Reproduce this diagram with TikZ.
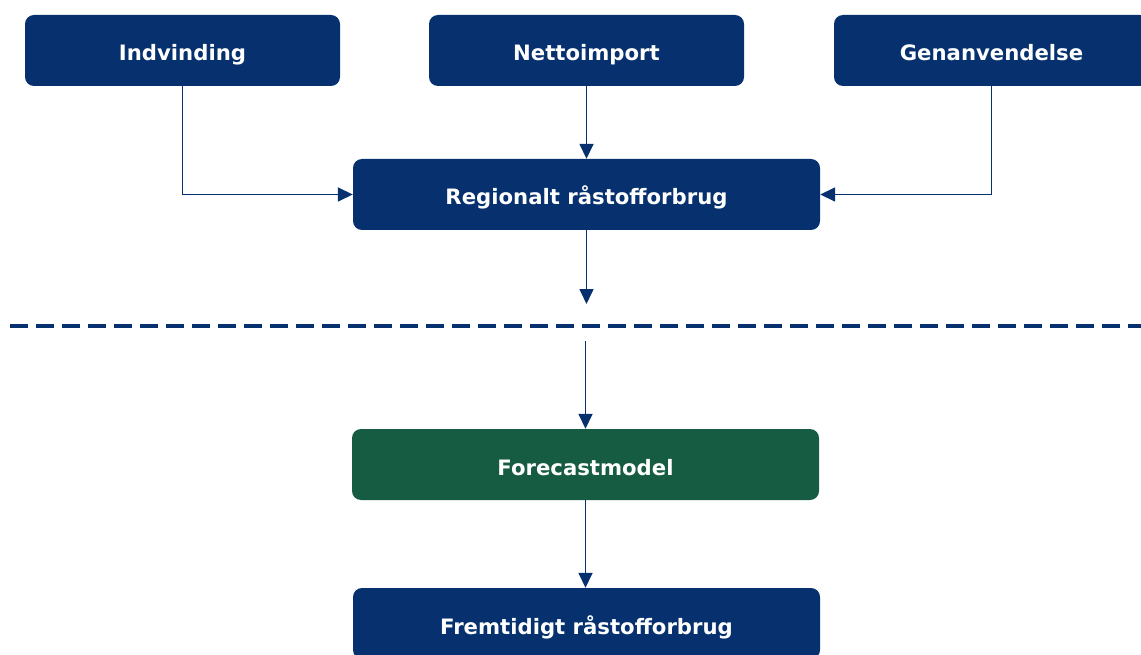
\documentclass[tikz,border=0pt]{standalone}
\usepackage{fontspec}
\setmainfont{DejaVu Sans}
\usetikzlibrary{arrows.meta}
\definecolor{navy}{HTML}{06316E}
\definecolor{fgreen}{HTML}{165C42}
\begin{document}
\begin{tikzpicture}[x=1pt,y=-1pt,
  box/.style={rectangle, rounded corners=9pt, fill=navy, text=white,
    font=\bfseries\fontsize{21.2}{25}\selectfont, minimum height=71pt,
    minimum width=467pt, inner sep=0pt, text height=21pt, text depth=0pt},
  topbox/.style={box, minimum width=315pt},
  conn/.style={draw=navy, line width=1.6pt, -{Triangle[width=14pt,length=15pt]}},
  sep/.style={draw=navy, line width=3.5pt, dash pattern=on 18pt off 8pt}]
\useasboundingbox (0,0) rectangle (1141,655);
\clip (0,0) rectangle (1141,655);
\node[topbox] (ind) at (182.5,50.5) {Indvinding};
\node[topbox] (net) at (586.5,50.5) {Nettoimport};
\node[topbox] (gen) at (991.5,50.5) {Genanvendelse};
\node[box] (reg) at (586.5,194.5) {Regionalt råstofforbrug};
\node[box, fill=fgreen] (fc) at (585.5,464.5) {Forecastmodel};
\node[box] (fut) at (586.5,623.5) {Fremtidigt råstofforbrug};
\coordinate (d1) at (586.5,304);
\coordinate (d2) at (585.5,341);
\coordinate (sl) at (10,326);
\coordinate (sr) at (1141,326);
\draw[conn] (ind.south) |- (reg.west);
\draw[conn] (net.south) -- (reg.north);
\draw[conn] (gen.south) |- (reg.east);
\draw[conn] (reg.south) -- (d1);
\draw[sep] (sl) -- (sr);
\draw[conn] (d2) -- (fc.north);
\draw[conn] (fc.south) -- (fut.north -| fc.south);
\end{tikzpicture}
\end{document}
